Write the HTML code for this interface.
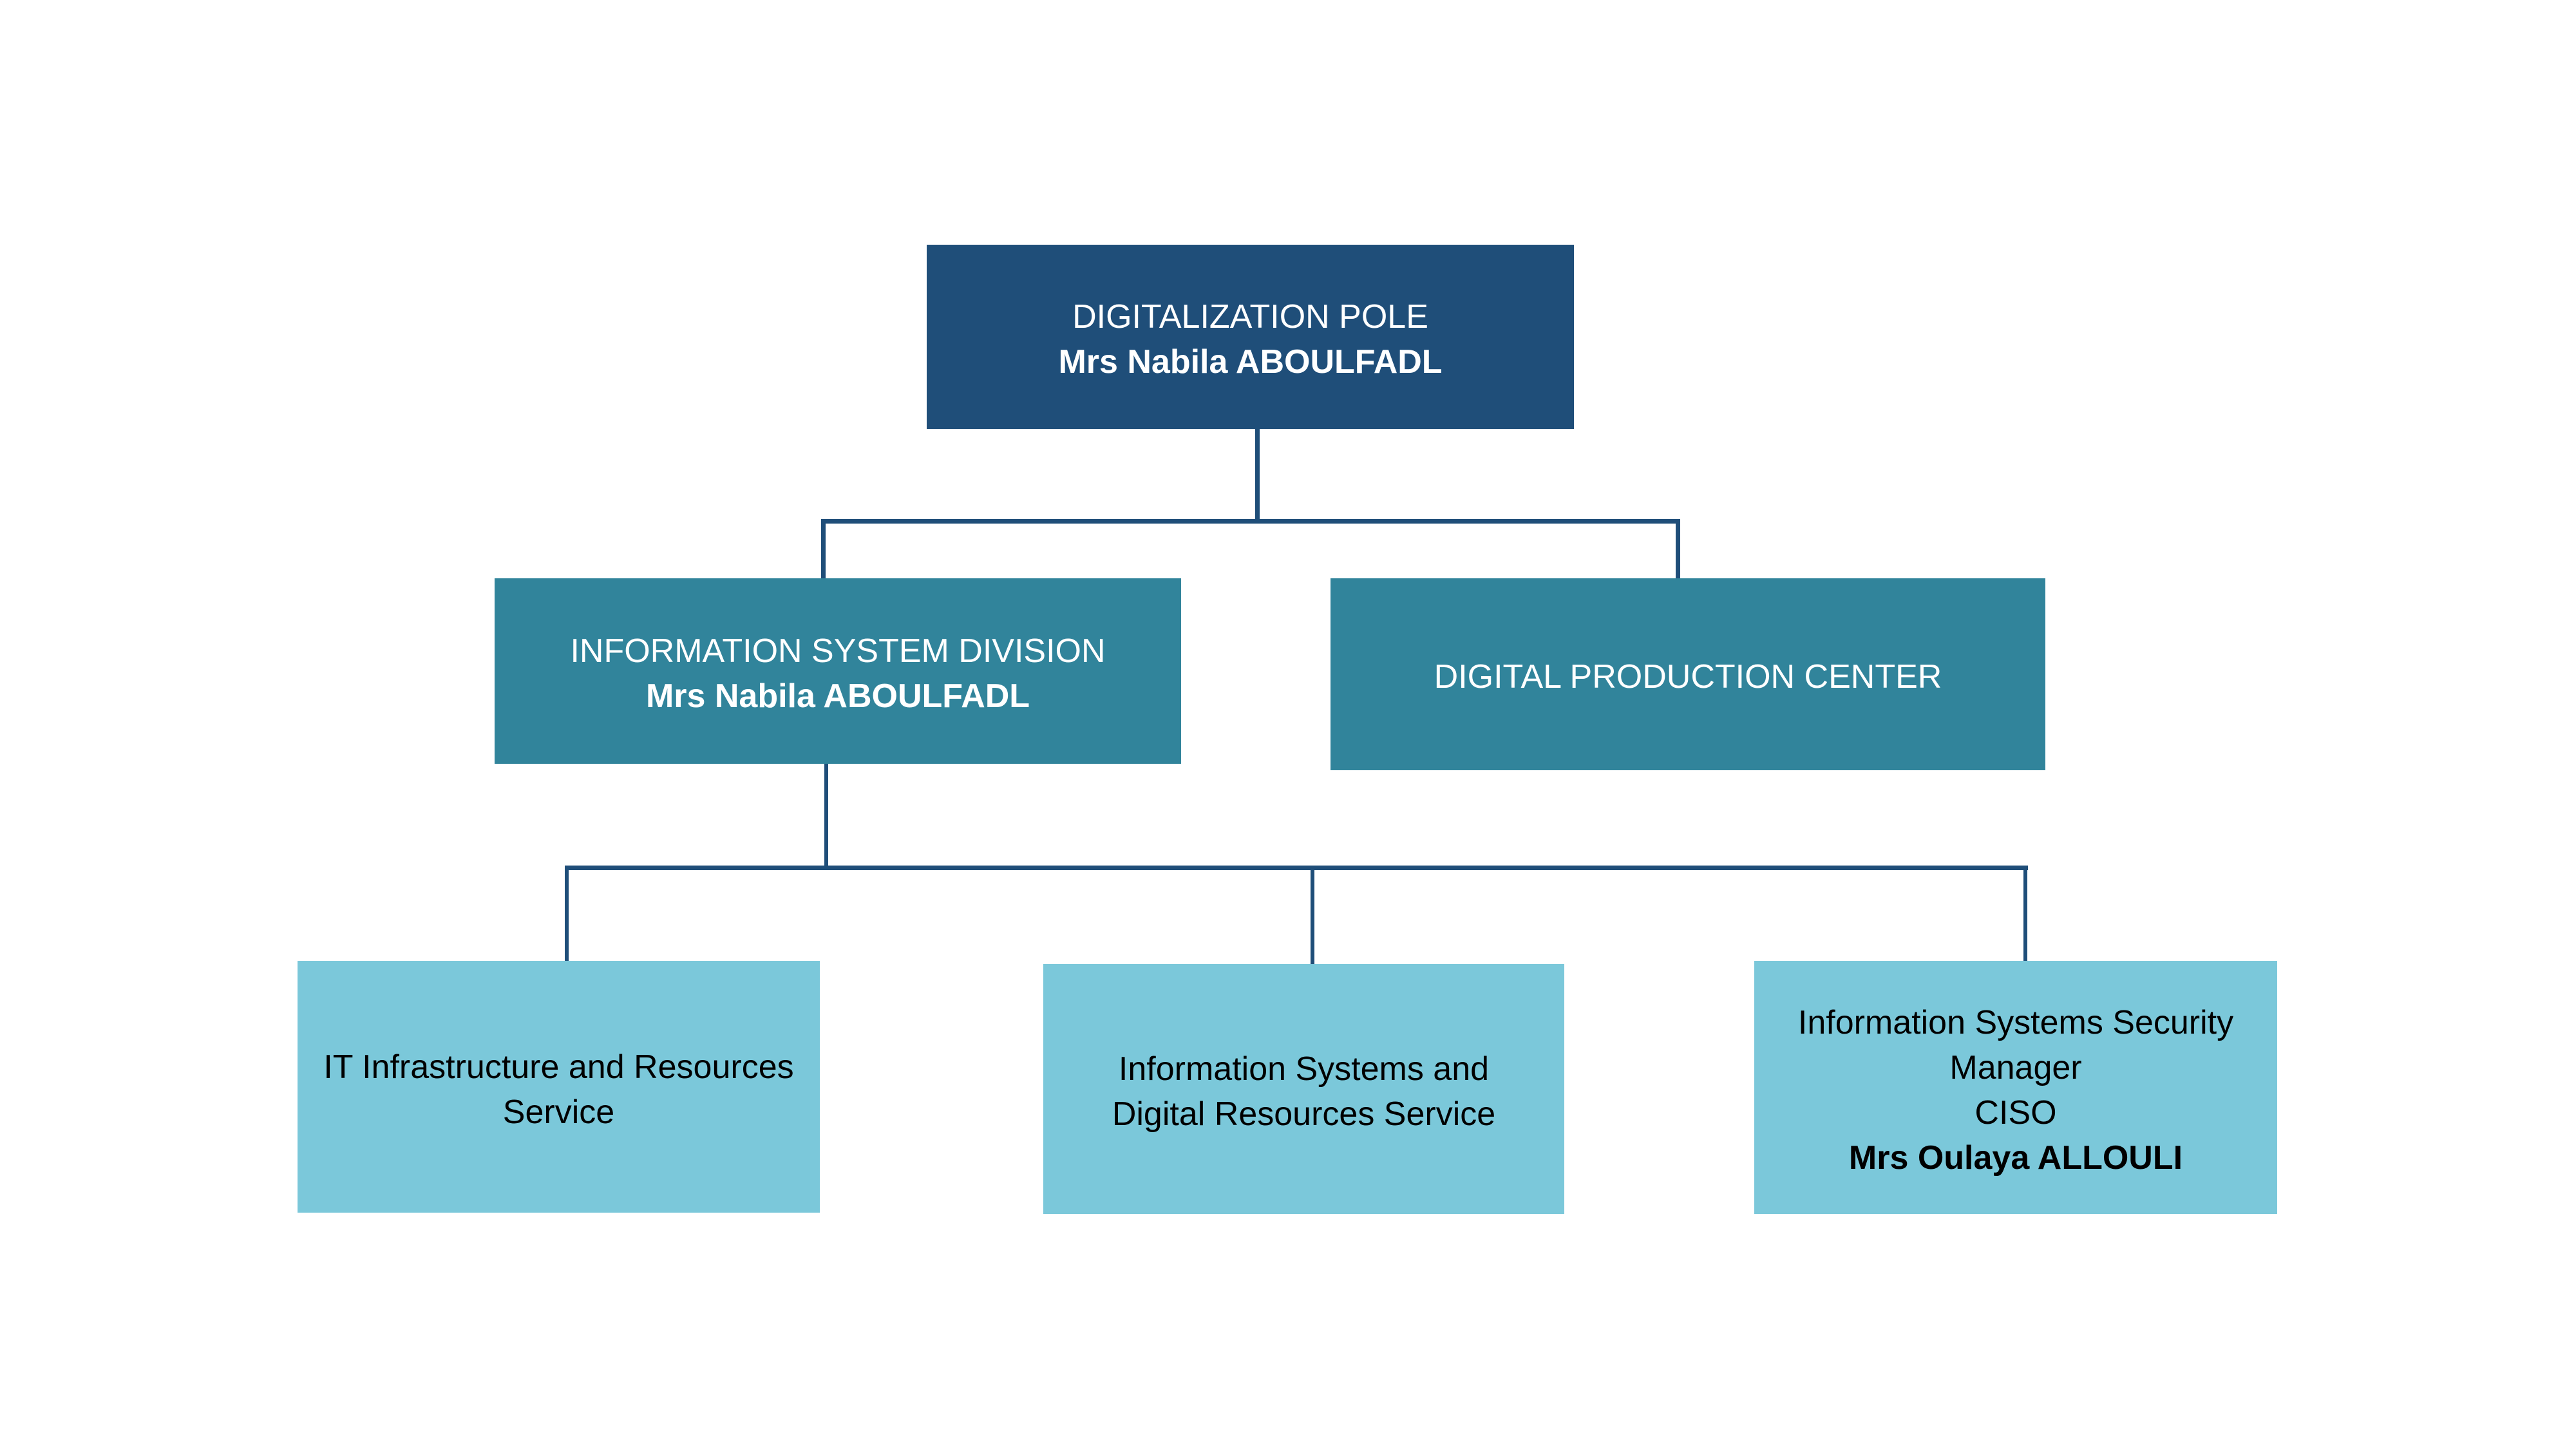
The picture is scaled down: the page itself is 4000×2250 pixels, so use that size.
<!DOCTYPE html>
<html><head><style>
body{margin:0;width:4000px;height:2250px;background:#fff;position:relative;overflow:hidden;font-family:"Liberation Sans",sans-serif;}
.b{position:absolute;display:flex;flex-direction:column;justify-content:center;align-items:center;text-align:center;font-size:52px;line-height:70px;box-sizing:border-box;padding-top:8px;}
.l{position:absolute;background:#1F4E79;}
b{font-weight:bold}
</style></head><body>
<div class="l" style="left:1949px;top:664px;width:7px;height:148px"></div>
<div class="l" style="left:1275px;top:806px;width:1334px;height:7px"></div>
<div class="l" style="left:1275px;top:806px;width:7px;height:94px"></div>
<div class="l" style="left:2602px;top:806px;width:7px;height:94px"></div>
<div class="l" style="left:1280px;top:1184px;width:6px;height:160px"></div>
<div class="l" style="left:877px;top:1344px;width:2272px;height:7px"></div>
<div class="l" style="left:877px;top:1344px;width:6px;height:150px"></div>
<div class="l" style="left:2035px;top:1344px;width:6px;height:155px"></div>
<div class="l" style="left:3142px;top:1344px;width:6px;height:150px"></div>

<div class="b" style="left:1439px;top:380px;width:1005px;height:286px;background:#1F4E79;color:#fff">DIGITALIZATION POLE<br><b>Mrs Nabila ABOULFADL</b></div>
<div class="b" style="left:768px;top:898px;width:1066px;height:288px;background:#31849B;color:#fff">INFORMATION SYSTEM DIVISION<br><b>Mrs Nabila ABOULFADL</b></div>
<div class="b" style="left:2066px;top:898px;width:1110px;height:298px;background:#31849B;color:#fff">DIGITAL PRODUCTION CENTER</div>
<div class="b" style="left:462px;top:1492px;width:811px;height:391px;background:#7BC8DA;color:#000">IT Infrastructure and Resources<br>Service</div>
<div class="b" style="left:1620px;top:1497px;width:809px;height:388px;background:#7BC8DA;color:#000">Information Systems and<br>Digital Resources Service</div>
<div class="b" style="left:2724px;top:1492px;width:812px;height:393px;background:#7BC8DA;color:#000">Information Systems Security<br>Manager<br>CISO<br><b>Mrs Oulaya ALLOULI</b></div>
</body></html>
